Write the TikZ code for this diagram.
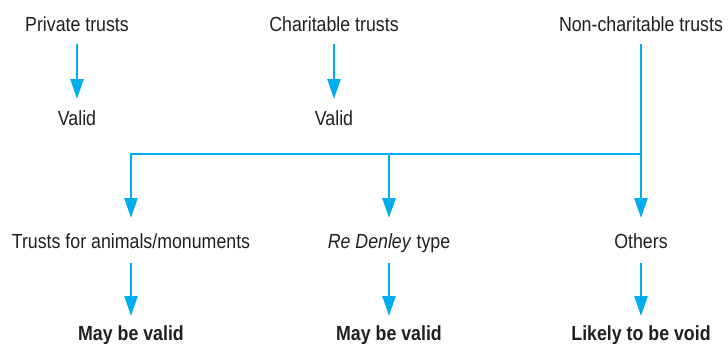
\documentclass[tikz,border=0pt]{standalone}
\usepackage{fontspec}
\setmainfont[FakeStretch=0.87]{Liberation Sans}
\usetikzlibrary{arrows.meta}
\definecolor{arrowblue}{HTML}{00AEEF}
\definecolor{txt}{HTML}{231F20}
\tikzset{
  lbl/.style={anchor=base, inner sep=0pt, text=txt, font=\fontsize{20.5}{24}\selectfont},
  res/.style={lbl, font=\fontsize{20.5}{24}\selectfont\bfseries},
  conn/.style={draw=arrowblue, line width=2.6bp},
  arr/.style={conn, -{Triangle[length=20bp, width=13bp]}, shorten >=-1bp}
}
\begin{document}
\begin{tikzpicture}[x=1bp, y=-1bp]
\useasboundingbox (0,0) rectangle (728,343);
% top row
\node[lbl] (p1) at (77,31) {Private trusts};
\node[lbl] (c1) at (334,31) {Charitable trusts};
\node[lbl] (n1) at (641,31) {Non-charitable trusts};
\node[lbl] (p2) at (77,125) {Valid};
\node[lbl] (c2) at (334,125) {Valid};
% middle row
\node[lbl] (a3) at (131,248) {Trusts for animals/monuments};
\node[lbl] (d3) at (389,248) {\textit{Re Denley} type};
\node[lbl] (o3) at (641,248) {Others};
% bottom row
\node[res] (a4) at (131,340) {May be valid};
\node[res] (d4) at (389,340) {May be valid};
\node[res] (o4) at (641,340) {Likely to be void};
% junctions
\coordinate (j) at (641,154);
\coordinate (ja) at (a3.base |- j);
\coordinate (jd) at (d3.base |- j);
% connectors
\draw[arr] ([yshift=-13bp]p1.base) -- ([yshift=27bp]p2.base);
\draw[arr] ([yshift=-13bp]c1.base) -- ([yshift=27bp]c2.base);
\draw[conn] ([yshift=-13bp]n1.base) -- (j);
\draw[conn, line cap=rect] (j) -- (ja);
\draw[arr] (j) -- ([yshift=31bp]o3.base);
\draw[arr] (ja) -- ([yshift=31bp]a3.base);
\draw[arr] (jd) -- ([yshift=31bp]d3.base);
\draw[arr] ([yshift=-15bp]a3.base) -- ([yshift=25bp]a4.base);
\draw[arr] ([yshift=-15bp]d3.base) -- ([yshift=25bp]d4.base);
\draw[arr] ([yshift=-15bp]o3.base) -- ([yshift=25bp]o4.base);
\end{tikzpicture}
\end{document}
